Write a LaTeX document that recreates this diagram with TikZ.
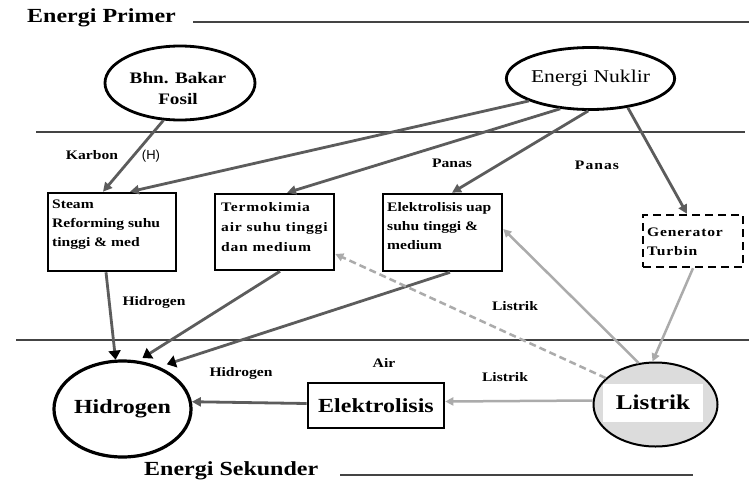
\documentclass[tikz,border=0pt]{standalone}
\usepackage{fontspec}
\setmainfont[FakeStretch=1.2]{Liberation Serif}
\newfontfamily\sansH{Liberation Sans}
\usetikzlibrary{arrows.meta,shapes.geometric}
\definecolor{darkarr}{HTML}{5C5C5C}
\definecolor{lightarr}{HTML}{ABABAB}
\definecolor{rulec}{HTML}{444444}
\definecolor{listrikfill}{HTML}{DCDCDC}
\begin{document}
\begin{tikzpicture}[x=1pt,y=-1pt,
  ell/.style={ellipse, draw=black, line width=2.8pt, inner sep=0pt, fill=white},
  boxnode/.style={rectangle, draw=black, line width=2.6pt, inner sep=0pt, fill=white},
  boxtext/.style={anchor=north west, inner sep=0pt, align=left, font=\fontsize{13}{19}\selectfont\bfseries},
  lbl/.style={inner sep=0pt, font=\fontsize{13}{15}\selectfont\bfseries},
  dark/.style={draw=darkarr, line width=2.8pt, -{Triangle[length=9pt,width=9pt]}},
  darkh/.style={draw=darkarr, line width=2.8pt, -{Triangle[length=9pt,width=12pt,color=black]}},
  light/.style={draw=lightarr, line width=2.5pt, -{Triangle[length=8pt,width=8pt]}},
  sepline/.style={draw=rulec, line width=1.2pt},
  title/.style={anchor=base west, inner sep=0pt, font=\fontsize{20}{22}\selectfont\bfseries},
]
\useasboundingbox[fill=white] (0,0) rectangle (749,479);

% separators and titles
\node[title] (primer) at (27,22) {Energi Primer};
\draw[sepline] (193,22) -- (749,22);
\draw[sepline] (36,132) -- (745,132);
\draw[sepline] (16,340) -- (749,340);
\node[title] (sekunder) at (144,475) {Energi Sekunder};
\draw[sepline] (340,475) -- (693,475);

% primary sources
\node[ell, minimum width=150pt, minimum height=74pt] (fosil) at (180,83) {};
\node[inner sep=0pt, align=center, font=\fontsize{16}{21}\selectfont\bfseries] (fosiltxt) at (178,88.5) {Bhn. Bakar\\Fosil};
\node[ell, minimum width=163pt, minimum height=62pt, font=\fontsize{18}{20}\selectfont] (nuklir) at (590.5,78.5) {Energi Nuklir};

% process boxes
\node[boxnode, minimum width=128pt, minimum height=78pt] (steam) at (112,232) {};
\node[boxtext] (steamtxt) at (52,200) {Steam\\Reforming suhu\\tinggi \& med};
\node[boxnode, minimum width=119pt, minimum height=76pt] (termo) at (274.5,232) {};
\node[boxtext, font=\fontsize{13}{20}\selectfont\bfseries\addfontfeature{LetterSpace=6}] (termotxt) at (221,202) {Termokimia\\air suhu tinggi\\dan medium};
\node[boxnode, minimum width=119pt, minimum height=77pt] (elup) at (442.5,232.5) {};
\node[boxtext] (eluptxt) at (387,202) {Elektrolisis uap\\suhu tinggi \&\\medium};
\node[boxnode, line width=2.4pt, dash pattern=on 8pt off 5pt, minimum width=100pt, minimum height=52pt] (gen) at (693,241) {};
\node[boxtext, font=\fontsize{13}{19}\selectfont\bfseries\addfontfeature{LetterSpace=6}] (gentxt) at (647,228) {Generator\\Turbin};

% secondary
\node[ell, line width=3.2pt, minimum width=125pt, minimum height=96pt, font=\fontsize{20}{22}\selectfont\bfseries] (hidro) at (122.5,409) {Hidrogen};
\node[boxnode, minimum width=136pt, minimum height=45pt, font=\fontsize{20}{22}\selectfont\bfseries] (elek) at (376,405.5) {Elektrolisis};
\node[ell, fill=listrikfill, line width=2pt, minimum width=124pt, minimum height=84pt] (listrik) at (655.5,404.5) {};
\node[fill=white, minimum width=100pt, minimum height=38pt, inner sep=0pt, font=\fontsize{21}{24}\selectfont\bfseries] (listriktxt) at (653,402.5) {Listrik};

% connectors
\draw[dark] (fosil.-114) -- ([xshift=-9pt]steam.north);
\draw[dark] (nuklir.200) -- ([xshift=18pt]steam.north);
\draw[dark] (nuklir.225) -- ([xshift=12.5pt]termo.north);
\draw[dark] (nuklir.266) -- ([xshift=9.5pt]elup.north);
\draw[dark] (nuklir.-38) -- ([xshift=-6pt]gen.north);
\draw[darkh] ([xshift=-6pt]steam.south) -- (hidro.98);
\draw[darkh, shorten >=5pt] ([xshift=5.5pt]termo.south) -- (hidro.72);
\draw[darkh, shorten >=8pt] ([xshift=7.5pt]elup.south) -- (hidro.49);
\draw[light] (listrik.112) -- ([yshift=3.5pt]elup.east);
\draw[light, dash pattern=on 7pt off 4pt] (listrik.152) -- ([yshift=-22pt]termo.east);
\draw[light] (gen.south) -- (listrik.94);
\draw[light] ([yshift=4pt]listrik.west) -- ([yshift=4pt]elek.east);
\draw[dark] ([yshift=2pt]elek.west) -- (hidro.6);

% labels
\node[lbl] (karbon) at (92,155) {Karbon};
\node[inner sep=0pt, font=\sansH\fontsize{13}{15}\selectfont] (hlbl) at (151,156) {(H)};
\node[lbl] (panas1) at (452,163) {Panas};
\node[lbl, font=\fontsize{13}{15}\selectfont\bfseries\addfontfeature{LetterSpace=8}] (panas2) at (597,165) {Panas};
\node[lbl] (hidlbl1) at (154,302) {Hidrogen};
\node[lbl] (lis1) at (515,306) {Listrik};
\node[lbl] (air) at (384,363) {Air};
\node[lbl] (hidlbl2) at (241,373) {Hidrogen};
\node[lbl] (lis2) at (505,377) {Listrik};
\end{tikzpicture}
\end{document}
